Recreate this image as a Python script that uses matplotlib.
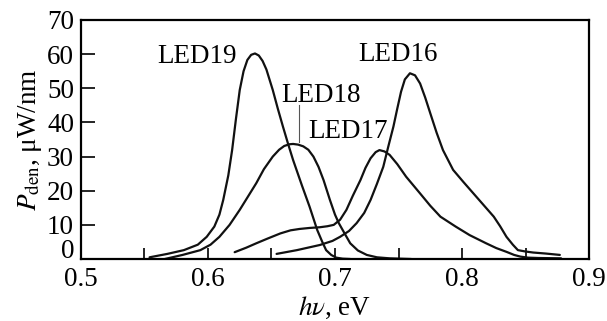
import matplotlib.pyplot as plt
from matplotlib.ticker import MultipleLocator

plt.rcParams['font.family'] = ['Liberation Serif', 'DejaVu Serif']
plt.rcParams['mathtext.fontset'] = 'stix'

FS = 19.5

# emission spectra, photon energy (eV) vs spectral power density (uW/nm)
led19_e = [0.554, 0.568, 0.581, 0.592, 0.599, 0.605, 0.609, 0.612, 0.616, 0.619,
           0.622, 0.625, 0.628, 0.631, 0.634, 0.637, 0.640, 0.643, 0.646, 0.651,
           0.655, 0.659, 0.663, 0.667, 0.674, 0.680, 0.686, 0.690, 0.693, 0.697,
           0.701, 0.706, 0.712]
led19_p = [0.5, 1.5, 2.6, 4.2, 6.5, 9.5, 13.0, 17.3, 24.5, 31.9,
           41.0, 49.5, 55.0, 58.3, 59.8, 60.2, 59.6, 58.0, 55.5, 49.5,
           44.0, 38.8, 33.8, 29.0, 21.5, 15.3, 8.5, 5.0, 2.6, 1.2,
           0.4, 0.1, 0.0]

led18_e = [0.566, 0.580, 0.594, 0.602, 0.609, 0.617, 0.625, 0.631, 0.638, 0.644,
           0.651, 0.656, 0.660, 0.664, 0.667, 0.671, 0.675, 0.679, 0.683, 0.687,
           0.691, 0.696, 0.700, 0.703, 0.708, 0.712, 0.718, 0.725, 0.733, 0.743,
           0.760]
led18_p = [0.0, 1.2, 2.6, 4.2, 6.5, 10.0, 14.4, 18.0, 22.2, 26.3,
           30.0, 32.0, 33.1, 33.6, 33.7, 33.5, 33.0, 32.0, 30.0, 27.0,
           23.1, 17.3, 13.0, 10.5, 7.2, 4.6, 2.5, 1.2, 0.5, 0.2,
           0.0]

led17_e = [0.621, 0.630, 0.638, 0.647, 0.657, 0.665, 0.672, 0.680, 0.688, 0.694,
           0.699, 0.704, 0.709, 0.714, 0.720, 0.724, 0.728, 0.732, 0.735, 0.739,
           0.743, 0.749, 0.756, 0.767, 0.775, 0.783, 0.795, 0.806, 0.819, 0.827,
           0.835, 0.841, 0.846, 0.852, 0.860, 0.878]
led17_p = [2.0, 3.3, 4.6, 6.0, 7.5, 8.4, 8.8, 9.1, 9.3, 9.6,
           10.0, 11.5, 14.4, 18.5, 23.1, 26.7, 29.5, 31.3, 31.9, 31.5,
           30.5, 27.8, 24.1, 19.2, 15.6, 12.4, 9.5, 7.0, 4.6, 3.2,
           2.1, 1.2, 0.7, 0.4, 0.3, 0.2]

led16_e = [0.654, 0.670, 0.688, 0.698, 0.704, 0.711, 0.717, 0.723, 0.728, 0.733,
           0.738, 0.742, 0.746, 0.749, 0.752, 0.755, 0.759, 0.763, 0.767, 0.771,
           0.775, 0.780, 0.785, 0.793, 0.801, 0.809, 0.817, 0.825, 0.830, 0.835,
           0.840, 0.844, 0.850, 0.856, 0.866, 0.877]
led16_p = [1.5, 2.6, 4.1, 5.3, 6.5, 8.2, 10.5, 13.5, 17.3, 22.0,
           27.0, 33.0, 38.8, 44.0, 49.0, 52.6, 54.4, 53.8, 51.4, 47.3,
           42.7, 37.0, 31.9, 26.1, 22.6, 19.2, 15.8, 12.4, 9.6, 6.5,
           4.2, 2.6, 2.2, 1.9, 1.6, 1.2]

fig = plt.figure(figsize=(6.07, 3.21), dpi=100)
ax = fig.add_axes([0.1334, 0.1931, 0.837, 0.7446])

for e, p in [(led19_e, led19_p), (led18_e, led18_p), (led17_e, led17_p), (led16_e, led16_p)]:
    ax.plot(e, p, color='#111111', linewidth=1.6, solid_joinstyle='round',
            solid_capstyle='round')

ax.text(0.591, 59.2, 'LED19', fontsize=FS, ha='center', va='center')
ax.text(0.689, 48.0, 'LED18', fontsize=FS, ha='center', va='center')
ax.text(0.710, 37.3, 'LED17', fontsize=FS, ha='center', va='center')
ax.text(0.750, 59.8, 'LED16', fontsize=FS, ha='center', va='center')
ax.plot([0.672, 0.672], [34.4, 45.1], color='#555555', linewidth=0.8)

ax.set_xlim(0.5, 0.9)
ax.set_ylim(0, 70)
ax.xaxis.set_major_locator(MultipleLocator(0.1))
ax.xaxis.set_minor_locator(MultipleLocator(0.05))
ax.yaxis.set_major_locator(MultipleLocator(10))
ax.xaxis.set_major_formatter(plt.FuncFormatter(lambda v, pos: f'{v:.1f}'))
# the zero label is drawn separately below, sitting on the baseline
ax.yaxis.set_major_formatter(plt.FuncFormatter(lambda v, pos: '' if v == 0 else f'{v:.0f}'))

ax.tick_params(axis='both', which='both', direction='in', labelsize=FS, width=1.2,
               top=False, right=False)
ax.tick_params(axis='x', which='both', length=8, pad=6)
ax.tick_params(axis='y', which='major', length=10, pad=5)
for spine in ax.spines.values():
    spine.set_linewidth(1.6)

ax.annotate('0', xy=(0, 0), xycoords=ax.get_yaxis_transform(), xytext=(-5, 1),
            textcoords='offset points', ha='right', va='baseline', fontsize=FS)

ax.set_xlabel(r'$h\nu$, eV', fontsize=FS, va='center')
ax.xaxis.set_label_coords(0.5, -0.205)
ax.set_ylabel(r'$P_{\mathrm{den}}$, μW/nm', fontsize=FS, labelpad=2)

fig.savefig('out.png', dpi=100)
